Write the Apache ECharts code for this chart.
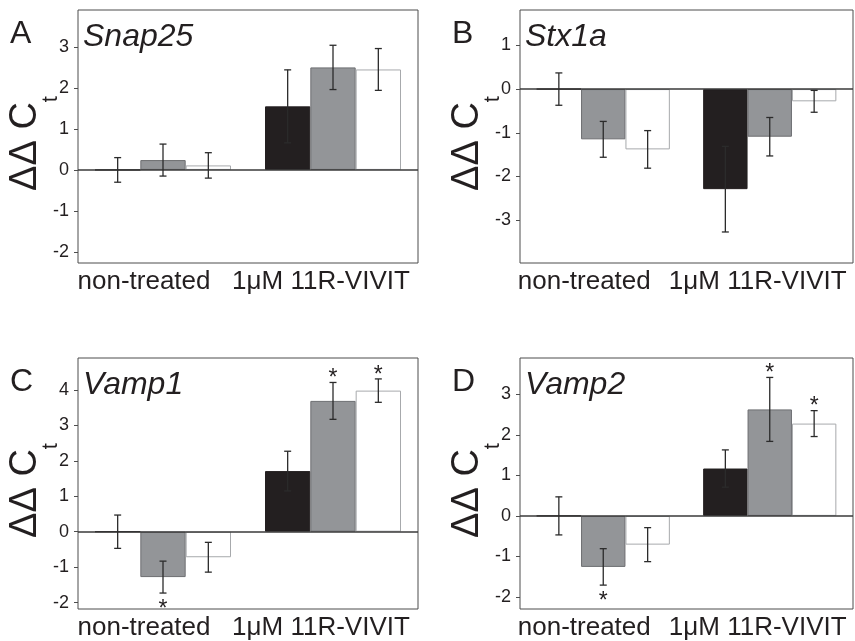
<!DOCTYPE html>
<html>
<head>
<meta charset="utf-8">
<script src="https://cdn.jsdelivr.net/npm/echarts@6/dist/echarts.min.js"></script>
<style>html,body{margin:0;padding:0;background:#fff}#c{width:855px;height:641px}</style>
</head>
<body>
<div id="c"></div>
<script>
// ---- data ----
const categories = ['non-treated', '1μM 11R-VIVIT'];
const panelLetters = ['A', 'B', 'C', 'D'];
const geneNames = ['Snap25', 'Stx1a', 'Vamp1', 'Vamp2'];

const ticksA = [-2, -1, 0, 1, 2, 3];
const ticksB = [-3, -2, -1, 0, 1];
const ticksC = [-2, -1, 0, 1, 2, 3, 4];
const ticksD = [-2, -1, 0, 1, 2, 3];
const rangeA = [-2.27, 3.9];
const rangeB = [-3.98, 1.81];
const rangeC = [-2.18, 4.9];
const rangeD = [-2.3, 3.9];

// Snap25
const A_black = [0, 1.55], A_blackErr = [0.30, 0.89], A_blackSig = [0, 0];
const A_gray = [0.24, 2.50], A_grayErr = [0.39, 0.54], A_graySig = [0, 0];
const A_white = [0.11, 2.45], A_whiteErr = [0.31, 0.51], A_whiteSig = [0, 0];
// Stx1a
const B_black = [0, -2.29], B_blackErr = [0.37, 0.98], B_blackSig = [0, 0];
const B_gray = [-1.15, -1.09], B_grayErr = [0.41, 0.44], B_graySig = [0, 0];
const B_white = [-1.38, -0.28], B_whiteErr = [0.43, 0.25], B_whiteSig = [0, 0];
// Vamp1
const C_black = [0, 1.71], C_blackErr = [0.47, 0.56], C_blackSig = [0, 0];
const C_gray = [-1.28, 3.69], C_grayErr = [0.45, 0.52], C_graySig = [1, 1];
const C_white = [-0.72, 3.98], C_whiteErr = [0.42, 0.33], C_whiteSig = [0, 1];
// Vamp2
const D_black = [0, 1.17], D_blackErr = [0.47, 0.46], D_blackSig = [0, 0];
const D_gray = [-1.26, 2.63], D_grayErr = [0.45, 0.79], D_graySig = [1, 1];
const D_white = [-0.71, 2.28], D_whiteErr = [0.42, 0.32], D_whiteSig = [0, 1];

// ---- build ----
const FONT = "'Liberation Sans', Arial, Helvetica, sans-serif";
const panels = [
  { ticks: ticksA, range: rangeA, vals: [A_black, A_gray, A_white], errs: [A_blackErr, A_grayErr, A_whiteErr], sigs: [A_blackSig, A_graySig, A_whiteSig] },
  { ticks: ticksB, range: rangeB, vals: [B_black, B_gray, B_white], errs: [B_blackErr, B_grayErr, B_whiteErr], sigs: [B_blackSig, B_graySig, B_whiteSig] },
  { ticks: ticksC, range: rangeC, vals: [C_black, C_gray, C_white], errs: [C_blackErr, C_grayErr, C_whiteErr], sigs: [C_blackSig, C_graySig, C_whiteSig] },
  { ticks: ticksD, range: rangeD, vals: [D_black, D_gray, D_white], errs: [D_blackErr, D_grayErr, D_whiteErr], sigs: [D_blackSig, D_graySig, D_whiteSig] }
];
const gridPos = [
  { left: 78, top: 10, width: 340, height: 253 },
  { left: 520, top: 10, width: 333, height: 253 },
  { left: 78, top: 358, width: 340, height: 253 },
  { left: 520, top: 358, width: 333, height: 253 }
];
const barStyles = [
  { color: '#231f20', borderColor: '#231f20', borderWidth: 1 },
  { color: '#939598', borderColor: '#6d6e71', borderWidth: 1 },
  { color: '#ffffff', borderColor: '#a7a9ac', borderWidth: 1 }
];
const CAT_GAP = 0.2;

function errRenderer(sIdx) {
  return function (params, api) {
    const cat = api.value(0), v = api.value(1), e = api.value(2), sig = api.value(3);
    const band = api.size([1, 0])[0];
    const bw = band * (1 - CAT_GAP) / 3;
    const cx = api.coord([cat, 0])[0] + (sIdx - 1) * bw;
    const yHi = api.coord([cat, v + e])[1];
    const yLo = api.coord([cat, v - e])[1];
    const cap = 3.5;
    const st = { stroke: '#2b2b2b', lineWidth: 1.3 };
    const children = [
      { type: 'line', shape: { x1: cx, y1: yHi, x2: cx, y2: yLo }, style: st },
      { type: 'line', shape: { x1: cx - cap, y1: yHi, x2: cx + cap, y2: yHi }, style: st },
      { type: 'line', shape: { x1: cx - cap, y1: yLo, x2: cx + cap, y2: yLo }, style: st }
    ];
    if (sig) {
      const up = v >= 0;
      children.push({
        type: 'text',
        style: {
          text: '*', x: cx, y: up ? yHi + 8 : yLo + 5,
          fill: '#231f20', font: '23px ' + FONT,
          textAlign: 'center', textVerticalAlign: up ? 'bottom' : 'top'
        }
      });
    }
    return { type: 'group', children: children };
  };
}

const grid = [], xAxis = [], yAxis = [], series = [], title = [];
panels.forEach((p, i) => {
  grid.push(Object.assign({ show: true, borderColor: '#4d4d4d', borderWidth: 1, backgroundColor: 'transparent' }, gridPos[i]));
  xAxis.push({
    type: 'category', gridIndex: i,
    data: [
      { value: categories[0], textStyle: { padding: [0, 38, 0, 0] } },
      { value: categories[1], textStyle: { padding: [0, 24, 0, 0] } }
    ],
    axisLine: { show: false }, axisTick: { show: false },
    axisLabel: { fontSize: 26, color: '#231f20', fontFamily: FONT, margin: 6, interval: 0 }
  });
  yAxis.push({
    type: 'value', gridIndex: i, min: p.range[0], max: p.range[1],
    axisLine: { show: false },
    axisTick: { show: true, customValues: p.ticks, length: 4, lineStyle: { color: '#4d4d4d' } },
    axisLabel: { customValues: p.ticks, fontSize: 18, color: '#231f20', fontFamily: FONT, margin: 9 },
    splitLine: { show: false },
    name: '{m|ΔΔ C}{t|t}', nameLocation: 'middle', nameRotate: 90, nameGap: 31, nameMoveOverlap: false,
    nameTextStyle: {
      color: '#231f20', fontFamily: FONT, padding: [0, 14, 0, 0],
      rich: {
        m: { fontSize: 38, lineHeight: 40, fontFamily: FONT, color: '#231f20', verticalAlign: 'top' },
        t: { fontSize: 22, lineHeight: 22, fontFamily: FONT, color: '#231f20', padding: [33, 0, 0, 0], verticalAlign: 'top' }
      }
    }
  });
  for (let s = 0; s < 3; s++) {
    const bar = {
      type: 'bar', xAxisIndex: i, yAxisIndex: i, data: p.vals[s],
      barGap: '0%', barCategoryGap: (CAT_GAP * 100) + '%',
      itemStyle: barStyles[s], silent: true, animation: false
    };
    if (s === 0) {
      bar.markLine = {
        silent: true, symbol: 'none', label: { show: false }, animation: false,
        lineStyle: { color: '#3a3a3a', width: 1.5, type: 'solid' },
        data: [{ yAxis: 0 }]
      };
    }
    series.push(bar);
  }
  for (let s = 0; s < 3; s++) {
    series.push({
      type: 'custom', xAxisIndex: i, yAxisIndex: i, z: 5, silent: true, animation: false,
      renderItem: errRenderer(s),
      data: p.vals[s].map((v, k) => [k, v, p.errs[s][k], p.sigs[s][k]])
    });
  }
  const g = gridPos[i];
  title.push({
    text: panelLetters[i], left: g.left - 68, top: g.top + 8, padding: 0,
    textStyle: { fontSize: 32, fontWeight: 'normal', color: '#231f20', fontFamily: FONT }
  });
  title.push({
    text: geneNames[i], left: g.left + 5, top: g.top + 11, padding: 0,
    textStyle: { fontSize: 32, fontWeight: 'normal', fontStyle: 'italic', color: '#231f20', fontFamily: FONT }
  });
});

const chart = echarts.init(document.getElementById('c'), null, { renderer: 'canvas' });
chart.setOption({ animation: false, backgroundColor: '#fff', title, grid, xAxis, yAxis, series });
</script>
</body>
</html>
